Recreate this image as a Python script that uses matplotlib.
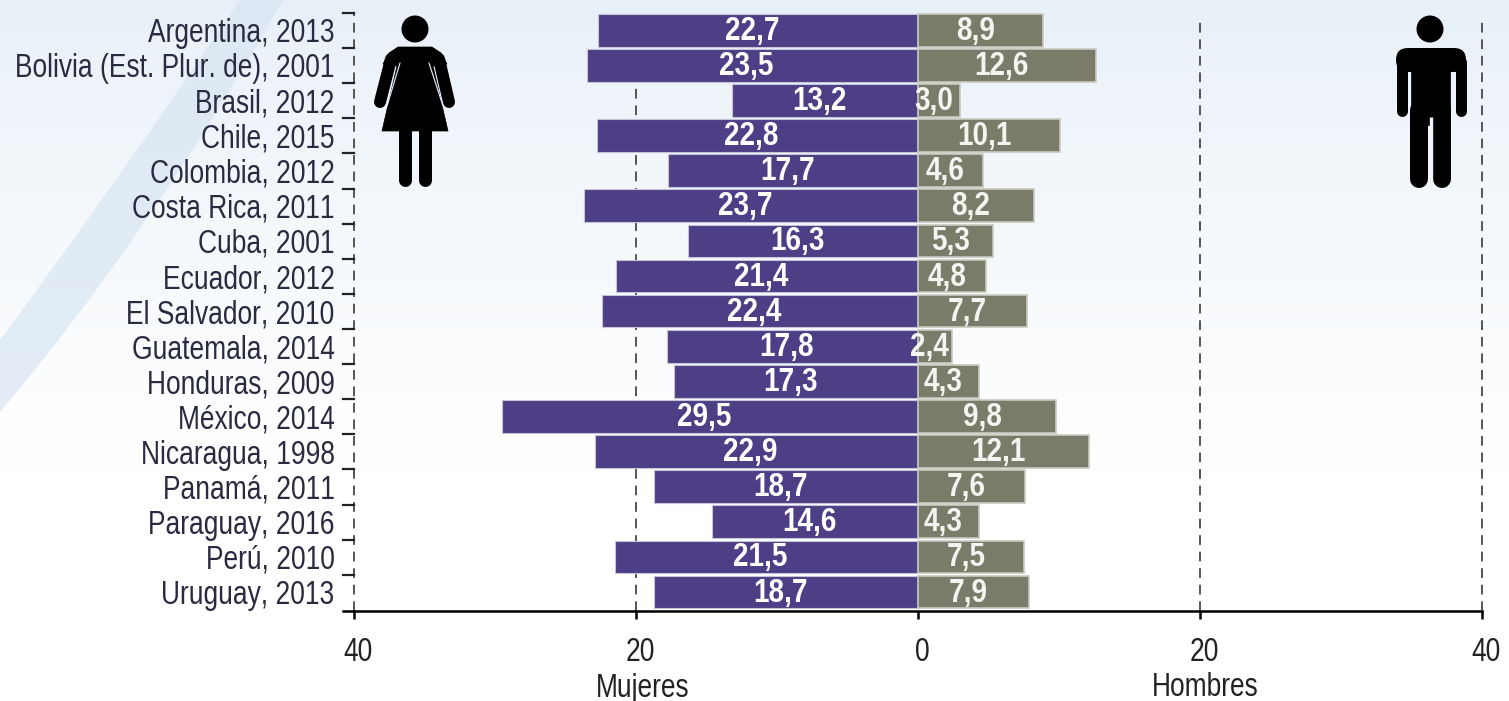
import numpy as np
import matplotlib
matplotlib.use("Agg")
import matplotlib.pyplot as plt
from matplotlib.patches import Polygon, Circle, FancyBboxPatch, PathPatch
from matplotlib.path import Path
from matplotlib.transforms import ScaledTranslation
from matplotlib import font_manager as fm

categories = ["Argentina, 2013", "Bolivia (Est. Plur. de), 2001", "Brasil, 2012", "Chile, 2015",
              "Colombia, 2012", "Costa Rica, 2011", "Cuba, 2001", "Ecuador, 2012", "El Salvador, 2010",
              "Guatemala, 2014", "Honduras, 2009", "México, 2014", "Nicaragua, 1998", "Panamá, 2011",
              "Paraguay, 2016", "Perú, 2010", "Uruguay, 2013"]
mujeres = [22.7, 23.5, 13.2, 22.8, 17.7, 23.7, 16.3, 21.4, 22.4, 17.8, 17.3, 29.5, 22.9, 18.7, 14.6, 21.5, 18.7]
hombres = [8.9, 12.6, 3.0, 10.1, 4.6, 8.2, 5.3, 4.8, 7.7, 2.4, 4.3, 9.8, 12.1, 7.6, 4.3, 7.5, 7.9]
xticks = [-40, -20, 0, 20, 40]
xticklabels = ["40", "20", "0", "20", "40"]


def condensed(weight, factor, family):
    """Write a horizontally condensed copy of Liberation Sans and register it."""
    from fontTools.ttLib import TTFont
    src = fm.findfont(fm.FontProperties(family="Liberation Sans", weight=weight))
    f = TTFont(src)
    glyf = f["glyf"]
    hmtx = f["hmtx"]
    for name in f.getGlyphOrder():
        g = glyf[name]
        if g.isComposite():
            for c in g.components:
                c.x = int(round(c.x * factor))
        elif g.numberOfContours > 0:
            coords = g.coordinates
            for i in range(len(coords)):
                coords[i] = (int(round(coords[i][0] * factor)), coords[i][1])
        if hasattr(g, "program"):
            g.program.fromBytecode(b"")
        adv, lsb = hmtx[name]
        hmtx[name] = (int(round(adv * factor)), int(round(lsb * factor)))
    for tag in ["kern", "GPOS", "GSUB", "GDEF", "fpgm", "prep", "cvt ", "hdmx", "VDMX", "LTSH"]:
        if tag in f:
            del f[tag]
    for rec in f["name"].names:
        if rec.nameID in (1, 4, 16):
            rec.string = family
        elif rec.nameID == 6:
            rec.string = family.replace(" ", "")
    path = family.replace(" ", "") + ".ttf"
    f.save(path)
    fm.fontManager.addfont(path)
    return fm.FontProperties(fname=path)


try:
    REG = condensed("normal", 0.79, "Chart Narrow")
    BOLD = condensed("bold", 0.82, "Chart Narrow Bold")
    SIZE_TXT, SIZE_VAL = 24, 24.5
except Exception:
    REG = fm.FontProperties(family="Liberation Sans")
    BOLD = fm.FontProperties(family="Liberation Sans", weight="bold")
    SIZE_TXT, SIZE_VAL = 20, 20

W, H = 1509, 701
fig = plt.figure(figsize=(W / 100, H / 100), dpi=100)

# background, pixel coordinates
bg = fig.add_axes([0, 0, 1, 1], zorder=0)
bg.set_xlim(0, W); bg.set_ylim(H, 0); bg.axis("off")
t = np.clip(np.arange(H) / 470, 0, 1)[:, None, None] ** 0.8
top = np.array([0.906, 0.94, 0.972]); bot = np.array([1.0, 1.0, 1.0])
bg.imshow(top * (1 - t) + bot * t, extent=(0, W, H, 0), aspect="auto")
band = Path([(240, 0), (283, 0), (150, 235), (0, 412), (0, 340), (115, 185), (240, 0)],
            [Path.MOVETO, Path.LINETO, Path.CURVE3, Path.CURVE3, Path.LINETO, Path.CURVE3, Path.CURVE3])
bg.add_patch(PathPatch(band, fc="#d3e2ef", ec="none", alpha=0.58))

# main chart
x0, x1 = 354, 1482
y_top, y_bot = 13, 611
ax = fig.add_axes([x0 / W, 1 - y_bot / H, (x1 - x0) / W, (y_bot - y_top) / H], zorder=1)
ax.patch.set_alpha(0)
y = np.arange(len(categories))
ax.set_xlim(-40, 40)
ax.set_ylim(16.54, -0.49)

for gx, g_end in [(-40, -0.49), (-20, 1.0), (20, -0.34), (40, -0.34)]:
    ax.plot([gx, gx], [16.54, g_end], color="#555555", lw=1.4, ls=(0, (5, 3.5)), zorder=1, clip_on=False)

ax.barh(y, [-v for v in mujeres], height=0.93, color="#4e3e86", edgecolor="#c5c3d8", lw=0.8, zorder=2)
ax.barh(y, hombres, height=0.93, color="#7a7b69", edgecolor="#c9cac0", lw=1.2, zorder=2)

for i, (m, h) in enumerate(zip(mujeres, hombres)):
    ax.annotate(f"{m:.1f}".replace(".", ","), (-m / 2, i), xytext=(-6, -1), textcoords="offset pixels",
                ha="center", va="center", color="white", fontproperties=BOLD, fontsize=SIZE_VAL, zorder=4)
    ax.annotate(f"{h:.1f}".replace(".", ","), (h / 2, i), xytext=(-5, -1), textcoords="offset pixels",
                ha="center", va="center", color="#f4f4f0", fontproperties=BOLD, fontsize=SIZE_VAL, zorder=4)

for s in ["top", "right", "left"]:
    ax.spines[s].set_visible(False)
ax.spines["bottom"].set_linewidth(1.8)
ax.spines["bottom"].set_bounds(-40, 40)
ax.plot([-40.8, -40], [16.54, 16.54], color="black", lw=1.8, clip_on=False, zorder=3)

ax.set_xticks(xticks)
ax.set_xticklabels(xticklabels, fontproperties=REG, fontsize=SIZE_TXT, color="#222222")
ax.tick_params(axis="x", length=6, width=1.8, pad=13, direction="out")
for lab in ax.get_xticklabels():
    lab.set_transform(lab.get_transform() + ScaledTranslation(4 / 100, 0, fig.dpi_scale_trans))

ax.set_yticks(y)
ax.set_yticklabels(categories, fontproperties=REG, fontsize=SIZE_TXT, color="#2a2a40")
ax.tick_params(axis="y", length=0, pad=14)
for b in np.arange(-0.49, 16.0, 1.0):
    ax.plot([-40.8, -40], [b, b], color="#222222", lw=1.6, clip_on=False, zorder=3)

ax.annotate("Mujeres", (-20, 0), xycoords=("data", "axes fraction"), xytext=(7, -77), textcoords="offset pixels",
            ha="center", va="center", fontproperties=REG, fontsize=SIZE_TXT, color="#222222")
ax.annotate("Hombres", (20, 0), xycoords=("data", "axes fraction"), xytext=(5, -77), textcoords="offset pixels",
            ha="center", va="center", fontproperties=REG, fontsize=SIZE_TXT, color="#222222")

# pictograms, pixel coordinates
ic = fig.add_axes([0, 0, 1, 1], zorder=3)
ic.set_xlim(0, W); ic.set_ylim(H, 0); ic.axis("off")


def poly(pts):
    ic.add_patch(Polygon(pts, closed=True, fc="black", ec="black", lw=0.5, joinstyle="round"))


def limb(xs, ys, w, color="black"):
    ic.plot(xs, ys, color=color, lw=w * 0.72, solid_capstyle="round")


# woman
ic.add_patch(Circle((415, 29), 13.5, fc="black", ec="none"))
limb([391, 380], [59, 102], 12)
limb([439, 449], [59, 102], 12)
poly([(398, 47), (432, 47), (441, 53), (447, 64), (433, 66), (448, 131), (382, 131), (397, 66), (383, 64),
      (389, 53)])
limb([400, 387], [63, 106], 1.2, "#dfe6ee")
limb([429, 443], [63, 106], 1.2, "#dfe6ee")
limb([405, 405], [128, 180], 13)
limb([424.5, 424.5], [128, 180], 13)

# man
ic.add_patch(Circle((1430, 29), 13.5, fc="black", ec="none"))
ic.add_patch(FancyBboxPatch((1396, 48), 70, 24, boxstyle="round,pad=0,rounding_size=12", fc="black", ec="none"))
poly([(1411, 62), (1450, 62), (1450, 125), (1411, 125)])
limb([1401.5, 1401.5], [62, 111], 11)
limb([1460.5, 1460.5], [62, 111], 11)
limb([1419, 1419], [110, 179], 18)
limb([1441.5, 1441.5], [110, 179], 18)
ic.plot([1430.5, 1430.5], [117, 190], color="#f1f5fb", lw=2.4, solid_capstyle="butt")

fig.savefig("out.png", dpi=100)
